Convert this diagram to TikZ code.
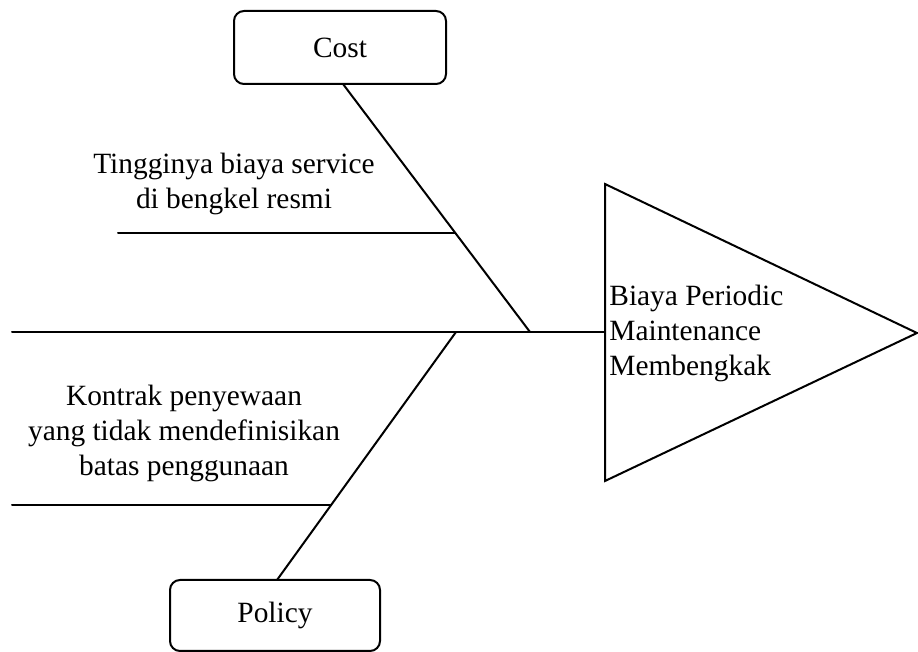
\documentclass[tikz,border=0pt]{standalone}
\usepackage{fontspec}
\setmainfont{Liberation Serif}
\newfontfamily\diagfont{Liberation Serif}
\usetikzlibrary{positioning}

\tikzset{
  bone/.style={line width=1pt, line cap=round},
  causebox/.style={draw, line width=1pt, rounded corners=5pt, minimum width=106pt, inner sep=0pt},
  causetext/.style={align=center, inner sep=0pt, font=\diagfont\fontsize{14.7}{17.5}\selectfont},
}

\begin{document}
\begin{tikzpicture}[x=0.5pt, y=-0.5pt]
  \useasboundingbox (0,0) rectangle (918,652);

  % categories
  \node[causebox, minimum height=36.5pt, font=\diagfont\fontsize{14.7}{18}\selectfont] (cost) at (340,47.5) {Cost};
  \node[causebox, minimum width=105pt, minimum height=35.5pt, font=\diagfont\fontsize{14.7}{18}\selectfont] (policy) at (275,615.5) {Policy};

  % head
  \coordinate (t1) at (605,184);
  \coordinate (t2) at (917,333);
  \coordinate (t3) at (605,481);
  \draw[line width=1pt, line join=miter] (t1) -- (t2) -- (t3) -- cycle;
  \node[causetext, align=left, anchor=west] (effect) at (609,333)
    {Biaya Periodic\\Maintenance\\Membengkak};

  % spine
  \coordinate (tail) at (12,332);
  \coordinate (head) at (605,332);
  \draw[bone] (tail) -- (head);

  % cost bone
  \coordinate (costtop) at (343,84);
  \coordinate (costend) at (530,332);
  \coordinate (c1a) at (118,233);
  \coordinate (c1b) at (455,233);
  \draw[bone] (costtop) -- (costend);
  \draw[bone] (c1a) -- (c1b);
  \node[causetext] (c1) at (234,184) {Tingginya biaya service\\di bengkel resmi};

  % policy bone
  \coordinate (poltop) at (277,580);
  \coordinate (polend) at (456,332);
  \coordinate (p1a) at (12,505);
  \coordinate (p1b) at (331,505);
  \draw[bone] (poltop) -- (polend);
  \draw[bone] (p1a) -- (p1b);
  \node[causetext] (p1) at (184,433) {Kontrak penyewaan\\yang tidak mendefinisikan\\batas penggunaan};
\end{tikzpicture}
\end{document}
